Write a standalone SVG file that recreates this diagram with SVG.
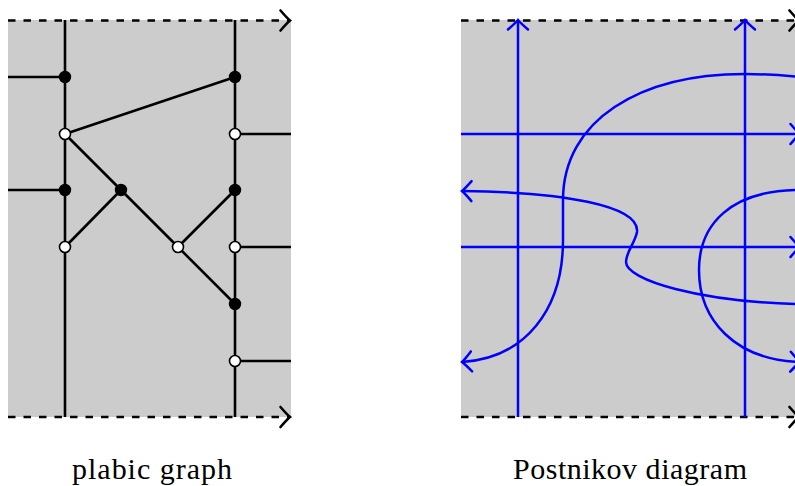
<svg xmlns="http://www.w3.org/2000/svg" width="795" height="486" viewBox="0 0 795 486">
<style>
.bg{fill:#cccccc;stroke:none}
.edge{stroke:#000;stroke-width:2.6;fill:none}
.dash{stroke:#000;stroke-width:2.6;fill:none;stroke-dasharray:7.5 8}
.strand{stroke:#0000ff;stroke-width:2.5;fill:none}
.bk{fill:#000;stroke:#000;stroke-width:1.4}
.wh{fill:#fff;stroke:#000;stroke-width:1.6}
.lbl{font-family:"Liberation Serif","Times New Roman",serif;font-size:30px;fill:#000;text-anchor:middle}
</style>
<defs>
<marker id="ak" markerUnits="userSpaceOnUse" markerWidth="24" markerHeight="24" viewBox="-12 -12 24 24" refX="0" refY="0" orient="auto" overflow="visible">
<path d="M -9.5,-10 Q -3,-2.5 0,0 Q -3,2.5 -9.5,10" fill="none" stroke="#000" stroke-width="2.6" stroke-linecap="round"/>
</marker>
<marker id="ab" markerUnits="userSpaceOnUse" markerWidth="24" markerHeight="24" viewBox="-12 -12 24 24" refX="0" refY="0" orient="auto" overflow="visible">
<path d="M -9.5,-10 Q -3,-2.5 0,0 Q -3,2.5 -9.5,10" fill="none" stroke="#0000ff" stroke-width="2.5" stroke-linecap="round"/>
</marker>
</defs>

<!-- Left panel: plabic graph -->
<rect class="bg" x="8" y="20" width="283" height="397"/>
<g id="connectors">
<path class="edge" d="M65,20 V417"/>
<path class="edge" d="M235,20 V417"/>
<path class="edge" d="M8,77 H65"/>
<path class="edge" d="M8,190 H65"/>
<path class="edge" d="M235,134 H291"/>
<path class="edge" d="M235,247 H291"/>
<path class="edge" d="M235,361 H291"/>
<path class="edge" d="M65,134 L235,77"/>
<path class="edge" d="M65,134 L121,190"/>
<path class="edge" d="M121,190 L65,247"/>
<path class="edge" d="M121,190 L178,247"/>
<path class="edge" d="M178,247 L235,190"/>
<path class="edge" d="M178,247 L235,304"/>
<path class="dash" d="M8,20.5 H290" marker-end="url(#ak)"/>
<path class="dash" d="M8,417 H290" marker-end="url(#ak)"/>
</g>
<g id="n1"><circle class="bk" cx="65" cy="77" r="5.5"/></g>
<g id="n2"><circle class="wh" cx="65" cy="134" r="5.5"/></g>
<g id="n3"><circle class="bk" cx="65" cy="190" r="5.5"/></g>
<g id="n4"><circle class="wh" cx="65" cy="247" r="5.5"/></g>
<g id="n5"><circle class="bk" cx="121" cy="190" r="5.5"/></g>
<g id="n6"><circle class="wh" cx="178" cy="247" r="5.5"/></g>
<g id="n7"><circle class="bk" cx="235" cy="77" r="5.5"/></g>
<g id="n8"><circle class="wh" cx="235" cy="134" r="5.5"/></g>
<g id="n9"><circle class="bk" cx="235" cy="190" r="5.5"/></g>
<g id="n10"><circle class="wh" cx="235" cy="247" r="5.5"/></g>
<g id="n11"><circle class="bk" cx="235" cy="304" r="5.5"/></g>
<g id="n12"><circle class="wh" cx="235" cy="361" r="5.5"/></g>
<text class="lbl" x="152" y="479" textLength="160" lengthAdjust="spacing">plabic graph</text>

<!-- Right panel: Postnikov diagram -->
<g id="postnikov">
<rect class="bg" x="461" y="20" width="340" height="397"/>
<path class="dash" d="M461,20.5 H799" marker-end="url(#ak)"/>
<path class="dash" d="M461,417 H799" marker-end="url(#ak)"/>
<path class="strand" d="M518,417 V20" marker-end="url(#ab)"/>
<path class="strand" d="M745,417 V20" marker-end="url(#ab)"/>
<path class="strand" d="M461,134 H800" marker-end="url(#ab)"/>
<path class="strand" d="M461,247 H800" marker-end="url(#ab)"/>
<path class="strand" d="M800,304 C700,302 626,280 626,262 C626,252 635,243 637,232 C640,205 560,192 462,191" marker-end="url(#ab)"/>
<path class="strand" d="M800,77 C780,75 765,74 745,74 C640,74 563,120 563,200 L563,240 C563,310 525,358 462,362" marker-end="url(#ab)"/>
<path class="strand" d="M800,190 C730,190 699,225 699,270 C699,320 735,360 800,362" marker-end="url(#ab)"/>
</g>
<text class="lbl" x="630" y="479" textLength="234" lengthAdjust="spacing">Postnikov diagram</text>
</svg>
